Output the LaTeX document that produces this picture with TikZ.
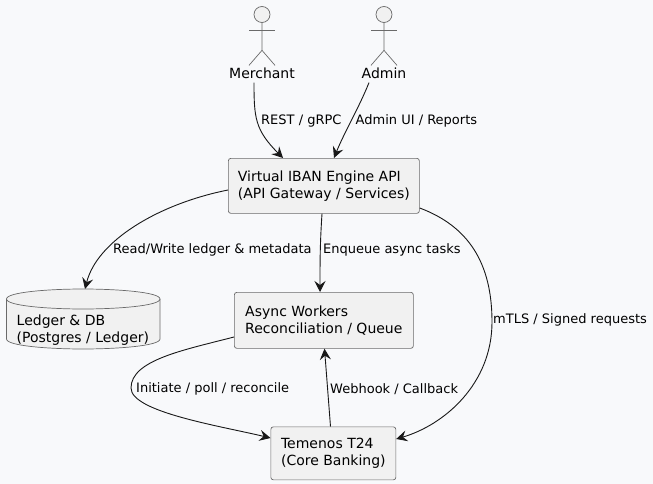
\documentclass[tikz,border=0pt]{standalone}
\usepackage{fontspec}
\setmainfont{DejaVu Sans}
\usetikzlibrary{arrows.meta,calc,positioning}
\definecolor{bgc}{HTML}{F8F9FB}
\definecolor{boxfill}{HTML}{F1F1F1}
\definecolor{linec}{HTML}{181818}
\definecolor{thinc}{HTML}{6A6A6A}
\tikzset{
  boxnode/.style={draw=thinc,line width=0.7pt,fill=boxfill,rounded corners=2.5pt,align=left,font=\fontsize{14}{17}\selectfont,anchor=north west,inner sep=0pt},
  headnode/.style={circle,draw=thinc,line width=0.7pt,fill=boxfill,minimum size=16pt,inner sep=0pt},
  actorlabel/.style={font=\fontsize{14}{17}\selectfont,inner sep=0pt,text=black},
  edgelabel/.style={font=\fontsize{13}{16}\selectfont,anchor=west,inner sep=0pt,text=black},
  conn/.style={draw=linec,line width=0.9pt,-{Stealth[length=11pt,width=11pt,inset=4pt]}},
  actorline/.style={draw=thinc,line width=0.7pt},
}
\begin{document}
\begin{tikzpicture}[x=1pt,y=-1pt]
\useasboundingbox (0,0) rectangle (653,484);
\fill[bgc] (0,0) rectangle (653,484);
% actors
\node[headnode] (mh) at (262,14.5) {};
\node[headnode] (ah) at (384,14.5) {};
\foreach \h in {mh,ah}{
  \draw[actorline] (\h.south) -- ++(0,27.5) -- ++(-13,15);
  \draw[actorline] (\h.south) ++(0,27.5) -- ++(13,15);
  \draw[actorline] (\h.south) ++(-13,8) -- ++(26,0);
}
\node[actorlabel] (merchant) at (262,73) {Merchant};
\node[actorlabel] (admin) at (384,73) {Admin};
% boxes
\node[boxnode,minimum width=191pt,minimum height=55pt] (api) at (228,158) {Virtual IBAN Engine API\\(API Gateway / Services)};
\node[boxnode,minimum width=179pt,minimum height=56pt] (async) at (234,292) {Async Workers\\Reconciliation / Queue};
\node[boxnode,minimum width=125pt,minimum height=53pt] (t24) at (270.5,426.5) {Temenos T24\\(Core Banking)};
% database
\coordinate (dbtop) at (85,289);
\draw[draw=thinc,line width=0.7pt,fill=boxfill]
  (6.5,299) .. controls (6.5,292) and (50,289) .. (83,289) .. controls (116,289) and (160,292) .. (160,299)
  -- (160,339) .. controls (160,346) and (116,349) .. (83,349) .. controls (50,349) and (6.5,346) .. (6.5,339) -- cycle;
\draw[draw=thinc,line width=0.7pt] (6.5,299) .. controls (6.5,306) and (50,309) .. (83,309) .. controls (116,309) and (160,306) .. (160,299);
\node[font=\fontsize{14}{17}\selectfont,align=left,anchor=north west,inner sep=0pt] (db) at (16.5,314.5) {Ledger \& DB\\(Postgres / Ledger)};
% connectors
\draw[conn] ($(merchant.south)+(-8,4)$) .. controls +(0,35) and +(-28,-28) .. ($(api.north west)+(55,0)$);
\draw[conn] ($(admin.south)+(-15,4)$) .. controls +(-10,25) and +(10,-25) .. ($(api.north west)+(106,0)$);
\draw[conn] (api.west |- 0,190) .. controls +(-70,14) and +(12,-48) .. (dbtop);
\draw[conn] ($(api.south west)+(94,0)$) .. controls +(-2,30) and +(0,-30) .. ($(async.north west)+(86,0)$);
\draw[conn] ($(api.north east)+(0,50)$) .. controls +(48,18) and +(0,-60) .. (492,322) .. controls +(0,62) and +(48,-14) .. (t24.east |- 0,439);
\draw[conn] (async.west |- 0,337) .. controls +(-50,13) and +(0,-28) .. (131,388) .. controls +(0,24) and +(-50,-12) .. (t24.west |- 0,438);
\draw[conn] ($(t24.north west)+(60,0)$) -- ($(async.south west)+(90.5,0)$);
% labels
\node[edgelabel] (l1) at (261,121) {REST / gRPC};
\node[edgelabel] (l2) at (355.5,121) {Admin UI / Reports};
\node[edgelabel] (l3) at (113,249.5) {Read/Write ledger \& metadata};
\node[edgelabel] (l4) at (323,250) {Enqueue async tasks};
\node[edgelabel] (l5) at (493,320) {mTLS / Signed requests};
\node[edgelabel] (l6) at (136,389) {Initiate / poll / reconcile};
\node[edgelabel] (l7) at (330,389) {Webhook / Callback};
\end{tikzpicture}
\end{document}
